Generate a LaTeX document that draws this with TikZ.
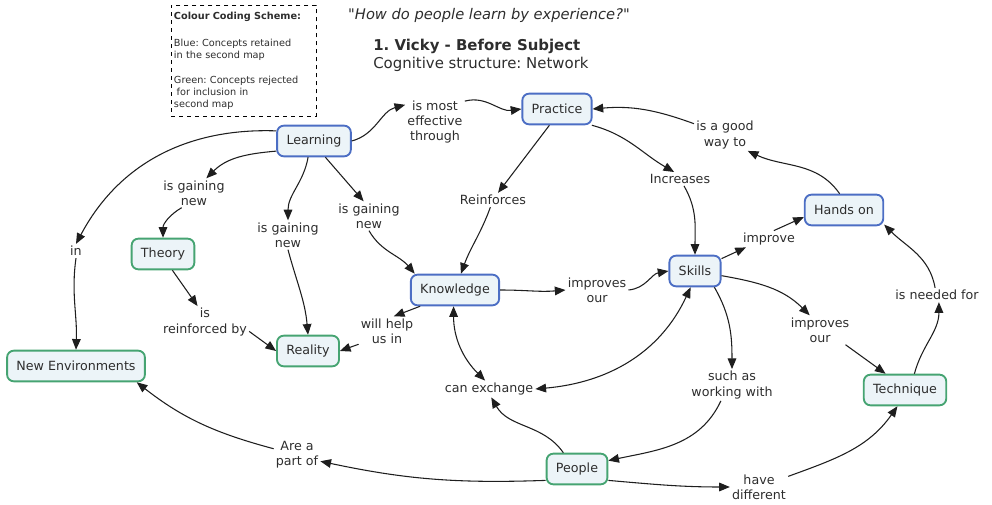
\documentclass[tikz,border=0pt]{standalone}
\usepackage{fontspec}
\setmainfont{DejaVu Sans}[Ligatures=TeXOff]
\usetikzlibrary{arrows.meta}
\definecolor{txt}{RGB}{45,45,45}
\definecolor{cfill}{RGB}{236,244,248}
\definecolor{blueline}{RGB}{76,110,196}
\definecolor{greenline}{RGB}{70,164,114}
\tikzset{
	concept/.style={rounded corners=5pt, fill=cfill, line width=1.4pt, minimum height=23pt, inner xsep=7pt, text=txt, font=\fontsize{9.5}{11}\selectfont},
	blueconcept/.style={concept, draw=blueline},
	greenconcept/.style={concept, draw=greenline},
	phrase/.style={align=center, inner sep=1.5pt, text=txt, font=\fontsize{9.5}{11.3}\selectfont},
	link/.style={line width=0.8pt, draw={rgb,255:red,30;green,30;blue,30}, -{Triangle[length=8pt,width=6.5pt]}},
	twoway/.style={link, {Triangle[length=8pt,width=6.5pt]}-{Triangle[length=8pt,width=6.5pt]}}
}
\frenchspacing
\begin{document}
\begin{tikzpicture}[x=0.75pt,y=0.75pt,yscale=-1,xscale=1]
	\useasboundingbox (0,0) rectangle (992,505);
	\node [anchor=north west, draw, dashed, line width=0.7pt, minimum width=108.75pt, minimum height=83.25pt, inner xsep=1.5pt, inner ysep=2pt, text width=105pt, align=left, text=txt, font=\fontsize{7.3}{9}\selectfont] (legend) at (171,5) {\textbf{Colour Coding Scheme:}\\[11pt]Blue: Concepts retained\\in the second map\\[10pt]Green: Concepts rejected\\\hspace*{2pt}for inclusion in\\second map};
	\node [text=txt, font=\fontsize{11}{13}\selectfont\itshape] (question) at (489,15) {"How do people learn by experience?"};
	\node [anchor=west, inner sep=0pt, text=txt, font=\fontsize{11.2}{13}\selectfont\bfseries] (title) at (373,46) {1. Vicky - Before Subject};
	\node [anchor=west, inner sep=0pt, text=txt, font=\fontsize{11.2}{13}\selectfont] (structure) at (373,64) {Cognitive structure: Network};

	\node [blueconcept] (learning) at (314,141) {Learning};
	\node [blueconcept] (practice) at (557,109) {Practice};
	\node [blueconcept] (handson) at (844,210) {Hands on};
	\node [blueconcept] (skills) at (695,271) {Skills};
	\node [blueconcept] (knowledge) at (455,290) {Knowledge};
	\node [greenconcept] (theory) at (163,254) {Theory};
	\node [greenconcept] (reality) at (308,351) {Reality};
	\node [greenconcept] (newenv) at (76,366) {New Environments};
	\node [greenconcept] (technique) at (905,390) {Technique};
	\node [greenconcept] (people) at (577,469) {People};

	\node [phrase] (effthrough) at (435,122) {is most\\effective\\through};
	\node [phrase] (gainleft) at (194,193) {is gaining\\new};
	\node [phrase] (gainmid) at (288,235) {is gaining\\new};
	\node [phrase] (gainright) at (369,216) {is gaining\\new};
	\node [phrase] (in) at (76,251) {in};
	\node [phrase] (reinfby) at (205,322) {is\\reinforced by};
	\node [phrase] (helpus) at (387,331) {will help\\us in};
	\node [phrase] (reinforces) at (493,200) {Reinforces};
	\node [phrase] (increases) at (680,179) {Increases};
	\node [phrase] (goodway) at (725,135) {is a good\\way to};
	\node [phrase] (improve) at (769,239) {improve};
	\node [phrase] (impmid) at (597,290) {improves\\our};
	\node [phrase] (impright) at (820,330) {improves\\our};
	\node [phrase] (needed) at (937,295) {is needed for};
	\node [phrase] (exchange) at (489,389) {can exchange};
	\node [phrase] (suchas) at (732,385) {such as\\working with};
	\node [phrase] (partof) at (297,455) {Are a\\part of};
	\node [phrase] (havediff) at (759,487) {have\\different};

	\draw [link] (learning.east) to[out=-15,in=165] (effthrough.150);
	\draw [link] (effthrough.35) to[out=-15,in=172] (practice.west);
	\draw [link] (learning.195) to[out=175,in=-45] (gainleft.50);
	\draw [link] (gainleft.230) to[out=150,in=-90] (theory.north);
	\draw [link] (learning.250) to[out=100,in=-90] (gainmid.north);
	\draw [link] (gainmid.south) to[out=75,in=-95] (reality.north);
	\draw [link] (learning.305) to (gainright.110);
	\draw [link] (gainright.south) to[out=60,in=-130] (knowledge.158);
	\draw [link] (learning.165) to[out=-178,in=-62] (in.north);
	\draw [link] (in.south) to[out=-262,in=-88] (newenv.north);
	\draw [link] (theory.-60) to (reinfby.115);
	\draw [link] (reinfby.-12) to (reality.west);
	\draw [link] (knowledge.205) to (helpus.65);
	\draw [link] (helpus.205) to (reality.east);
	\draw [link] (practice.245) to (reinforces.55);
	\draw [link] (reinforces.250) to[out=110,in=-70] (knowledge.70);
	\draw [link] (practice.-25) to[out=15,in=-150] (increases.130);
	\draw [link] (increases.-60) to[out=60,in=-90] (skills.north);
	\draw [link] (handson.105) to[out=-125,in=25] (goodway.-35);
	\draw [link] (goodway.160) to[out=-160,in=-5] (practice.east);
	\draw [link] (skills.25) to (improve.200);
	\draw [link] (improve.60) to (handson.190);
	\draw [link] (knowledge.east) to[out=0,in=-185] (impmid.west);
	\draw [link] (impmid.east) to[out=-5,in=-190] (skills.west);
	\draw [link] (skills.-10) to[out=10,in=-135] (impright.125);
	\draw [link] (impright.-30) to (technique.140);
	\draw [link] (technique.60) to[out=-75,in=90] (needed.-75);
	\draw [link] (needed.105) to[out=-100,in=45] (handson.-20);
	\draw [twoway] (knowledge.-95) to[out=90,in=-135] (exchange.115);
	\draw [twoway] (exchange.east) to[out=-5,in=115] (skills.-105);
	\draw [link] (skills.-40) to[out=60,in=-90] (suchas.north);
	\draw [link] (suchas.-125) to[out=115,in=-12] (people.15);
	\draw [link] (people.130) to[out=-125,in=60] (exchange.-75);
	\draw [link] (people.200) to[out=-182,in=12] (partof.-15);
	\draw [link] (partof.165) to[out=-165,in=38] (newenv.-15);
	\draw [link] (people.-20) to[out=5,in=-180] (havediff.west);
	\draw [link] (havediff.20) to[out=-20,in=125] (technique.-115);
\end{tikzpicture}
\end{document}
